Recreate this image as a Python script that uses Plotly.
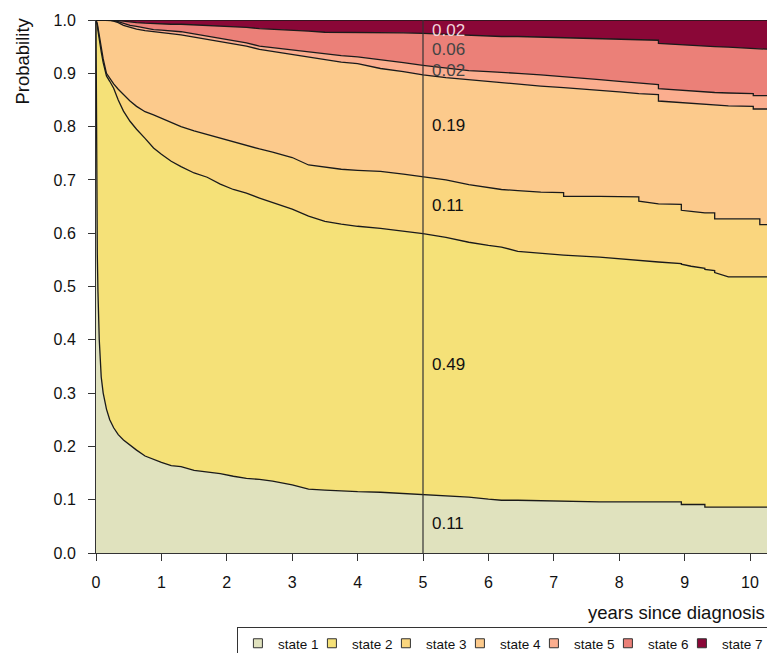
import plotly.graph_objects as go

# time grid (years since diagnosis); repeated times mark visible jumps
time = [0, 0.005, 0.01, 0.02, 0.03, 0.05, 0.08, 0.11, 0.16, 0.21, 0.27, 0.34, 0.42, 0.52, 0.62,
        0.75, 0.88, 1.0, 1.15, 1.3, 1.5, 1.7, 1.9, 2.1, 2.3, 2.5, 2.7, 3.0, 3.25, 3.5, 3.75, 4.0,
        4.35, 4.7, 5.0, 5.35, 5.7, 6.0, 6.2, 6.45, 6.8, 7.15, 7.15, 7.7, 8.0, 8.3, 8.3, 8.6, 8.6,
        8.95, 8.95, 9.1, 9.31, 9.31, 9.46, 9.46, 9.67, 10.05, 10.05, 10.15, 10.15, 10.3]

# cumulative probabilities (upper boundary of each state band)
cum_state1 = [1.0, 0.80, 0.68, 0.56, 0.49, 0.40, 0.33, 0.30, 0.27, 0.25, 0.235, 0.222, 0.212, 0.202,
              0.193, 0.182, 0.175, 0.170, 0.164, 0.162, 0.155, 0.152, 0.149, 0.144, 0.140, 0.138,
              0.135, 0.128, 0.120, 0.118, 0.116, 0.115, 0.114, 0.112, 0.109, 0.108, 0.105,
              0.101, 0.099, 0.099, 0.098, 0.097, 0.097, 0.096, 0.096, 0.096, 0.096, 0.096, 0.096,
              0.096, 0.091, 0.091, 0.091, 0.086, 0.086, 0.086, 0.086, 0.086, 0.086, 0.086, 0.086,
              0.086]
cum_state2 = [1.0, 0.998, 0.995, 0.99, 0.98, 0.96, 0.94, 0.92, 0.895, 0.885, 0.872, 0.85, 0.829, 0.81,
              0.795, 0.778, 0.76, 0.748, 0.735, 0.725, 0.713, 0.705, 0.692, 0.682, 0.675, 0.666,
              0.658, 0.645, 0.632, 0.622, 0.617, 0.613, 0.609, 0.604, 0.599, 0.592, 0.583,
              0.577, 0.574, 0.566, 0.562, 0.559, 0.559, 0.555, 0.552, 0.549, 0.548, 0.546, 0.546,
              0.543, 0.542, 0.538, 0.534, 0.532, 0.530, 0.526, 0.518, 0.518, 0.518, 0.518, 0.518,
              0.518]
cum_state3 = [1.0, 0.999, 0.997, 0.993, 0.985, 0.967, 0.947, 0.927, 0.90, 0.89, 0.88, 0.87, 0.86, 0.848,
              0.838, 0.828, 0.822, 0.816, 0.808, 0.80, 0.792, 0.785, 0.778, 0.772, 0.765, 0.758,
              0.752, 0.742, 0.728, 0.724, 0.72, 0.718, 0.716, 0.711, 0.706, 0.700, 0.691,
              0.686, 0.682, 0.680, 0.677, 0.676, 0.669, 0.669, 0.668, 0.668, 0.660, 0.656, 0.655,
              0.654, 0.643, 0.641, 0.638, 0.638, 0.638, 0.627, 0.627, 0.627, 0.627, 0.627, 0.616,
              0.616]
cum_state4 = [1.0, 1.0, 1.0, 1.0, 1.0, 1.0, 1.0, 1.0, 1.0, 1.0, 0.998, 0.995, 0.99, 0.986, 0.983,
              0.98, 0.978, 0.977, 0.975, 0.972, 0.968, 0.964, 0.96, 0.956, 0.951, 0.945, 0.941,
              0.935, 0.93, 0.925, 0.921, 0.918, 0.909, 0.903, 0.897, 0.892, 0.888,
              0.884, 0.882, 0.879, 0.876, 0.873, 0.873, 0.867, 0.865, 0.862, 0.862, 0.860, 0.848,
              0.845, 0.845, 0.843, 0.842, 0.842, 0.841, 0.841, 0.839, 0.838, 0.833, 0.833, 0.833,
              0.833]
cum_state5 = [1.0, 1.0, 1.0, 1.0, 1.0, 1.0, 1.0, 1.0, 1.0, 1.0, 0.999, 0.997, 0.994, 0.99, 0.988,
              0.985, 0.982, 0.981, 0.98, 0.978, 0.974, 0.97, 0.966, 0.962, 0.957, 0.951, 0.948,
              0.943, 0.94, 0.936, 0.933, 0.931, 0.926, 0.92, 0.915, 0.91, 0.905,
              0.903, 0.902, 0.9, 0.897, 0.894, 0.894, 0.888, 0.885, 0.882, 0.882, 0.879, 0.871,
              0.868, 0.868, 0.866, 0.865, 0.865, 0.864, 0.864, 0.863, 0.862, 0.858, 0.858, 0.858,
              0.858]
cum_state6 = [1.0, 1.0, 1.0, 1.0, 1.0, 1.0, 1.0, 1.0, 1.0, 1.0, 1.0, 0.999, 0.998, 0.996, 0.995,
              0.994, 0.993, 0.993, 0.992, 0.992, 0.991, 0.99, 0.989, 0.988, 0.986, 0.984, 0.983,
              0.981, 0.979, 0.977, 0.977, 0.977, 0.977, 0.976, 0.975, 0.973, 0.971,
              0.970, 0.969, 0.969, 0.968, 0.967, 0.967, 0.965, 0.964, 0.963, 0.963, 0.962, 0.956,
              0.953, 0.953, 0.952, 0.951, 0.951, 0.950, 0.950, 0.949, 0.947, 0.947, 0.946, 0.946,
              0.945]
cum_state7 = [1.0] * len(time)

state_names = ["state 1", "state 2", "state 3", "state 4", "state 5", "state 6", "state 7"]
state_colors = ["#E0E2BE", "#F5E178", "#FAD67E", "#FCCA8C", "#FBAE8F", "#EB8078", "#8A0737"]
label_time = 5
label_texts = ["0.11", "0.49", "0.11", "0.19", "0.02", "0.06", "0.02"]
label_colors = ["#111111", "#111111", "#111111", "#111111", "#444444", "#444444", "#F2D4DC"]

bounds = [cum_state1, cum_state2, cum_state3, cum_state4, cum_state5, cum_state6, cum_state7]
FONT = "Liberation Sans, Arial, Helvetica, sans-serif"

fig = go.Figure()
# baseline
fig.add_trace(go.Scatter(x=time, y=[0] * len(time), mode="lines", line=dict(width=0),
                         showlegend=False, hoverinfo="skip"))
for i, b in enumerate(bounds):
    fig.add_trace(go.Scatter(x=time, y=b, mode="lines", line=dict(width=0),
                             fill="tonexty", fillcolor=state_colors[i], showlegend=False,
                             hoverinfo="skip"))
# boundary lines
for b in bounds:
    fig.add_trace(go.Scatter(x=time, y=b, mode="lines", line=dict(color="#1a1a1a", width=1.3),
                             showlegend=False, hoverinfo="skip"))
# legend entries
for k, (name, col) in enumerate(zip(state_names, state_colors)):
    fig.add_trace(go.Scatter(x=[None], y=[None], mode="markers", name=name,
                             legendwidth=(48 if k == len(state_names) - 1 else 29),
                             marker=dict(symbol="square", size=9, color=col,
                                         line=dict(color="#333333", width=1))))

# vertical line at label time
fig.add_shape(type="line", xref="x", yref="y", x0=label_time, x1=label_time, y0=0, y1=1,
              line=dict(color="#333333", width=1.2))

# labels at mid-band
idx = time.index(label_time)
lower = 0.0
for i, b in enumerate(bounds):
    mid = (lower + b[idx]) / 2
    lower = b[idx]
    fig.add_annotation(x=label_time, y=min(mid, 0.981), xref="x", yref="y", text=label_texts[i],
                       showarrow=False, xanchor="left", yanchor="middle", xshift=7,
                       font=dict(family=FONT, size=17, color=label_colors[i]))

fig.add_annotation(text="Probability", xref="paper", yref="paper", x=-0.109, y=1.009,
                   xanchor="center", yanchor="top", textangle=-90, showarrow=False,
                   font=dict(family=FONT, size=18.5, color="#111111"))
fig.add_annotation(text="years since diagnosis", xref="paper", yref="paper", x=1.0, y=-0.111,
                   xanchor="right", yanchor="middle", showarrow=False,
                   font=dict(family=FONT, size=18.5, color="#111111"))

fig.update_layout(
    width=767, height=653,
    margin=dict(l=96, r=0, t=20, b=100, autoexpand=False),
    plot_bgcolor="white", paper_bgcolor="white",
    font=dict(family=FONT, size=16, color="#111111"),
    showlegend=True,
    legend=dict(orientation="h", x=0.210, y=-0.1388, xanchor="left", yanchor="top",
                bordercolor="#333333", borderwidth=1, font=dict(family=FONT, size=13.5),
                entrywidthmode="pixels", itemwidth=30,
                traceorder="normal", tracegroupgap=0),
    xaxis=dict(range=[0, 10.26], tickvals=list(range(11)), showgrid=False, zeroline=False,
               showline=True, linecolor="#333333", linewidth=1, ticks="outside", ticklen=7,
               tickcolor="#333333", tickfont=dict(size=16), ticklabelstandoff=8),
    yaxis=dict(range=[0, 1], tickvals=[i / 10 for i in range(11)], tickformat=".1f",
               showgrid=False, zeroline=False, showline=True, linecolor="#333333",
               linewidth=1, ticks="outside", ticklen=7, tickcolor="#333333",
               tickfont=dict(size=16), ticklabelstandoff=9),
)

fig.write_html("out.html")
